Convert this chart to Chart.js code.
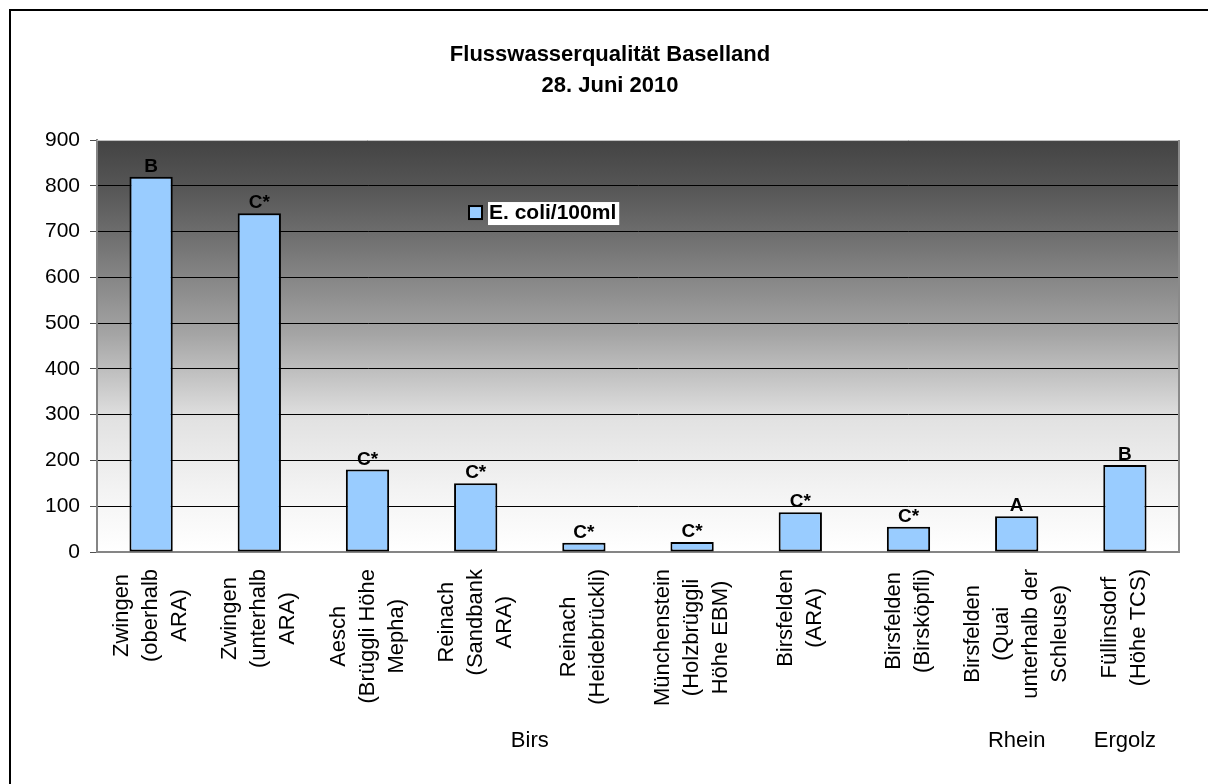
<!DOCTYPE html>
<html>
<head>
<meta charset="utf-8">
<title>Flusswasserqualität Baselland</title>
<script src="https://cdn.jsdelivr.net/npm/chart.js@4.4.1/dist/chart.umd.min.js"></script>
<style>
  html, body { margin: 0; padding: 0; background: #ffffff; }
  canvas { display: block; }
</style>
</head>
<body>
<canvas id="chart" width="1208" height="784"></canvas>
<script>
// Sampling stations (one label line per array entry)
const stations = [
  ['Zwingen', '(oberhalb', 'ARA)'],
  ['Zwingen', '(unterhalb', 'ARA)'],
  ['Aesch', '(Brüggli Höhe', 'Mepha)'],
  ['Reinach', '(Sandbank', 'ARA)'],
  ['Reinach', '(Heidebrückli)'],
  ['Münchenstein', '(Holzbrüggli', 'Höhe EBM)'],
  ['Birsfelden', '(ARA)'],
  ['Birsfelden', '(Birsköpfli)'],
  ['Birsfelden', '(Quai', 'unterhalb der', 'Schleuse)'],
  ['Füllinsdorf', '(Höhe TCS)']
];
// River of each station
const rivers = ['Birs', 'Birs', 'Birs', 'Birs', 'Birs', 'Birs', 'Birs', 'Birs', 'Rhein', 'Ergolz'];
// E. coli per 100 ml
const ecoli = [820, 740, 180, 150, 20, 22, 87, 55, 78, 190];
// Quality class of each station
const grades = ['B', 'C*', 'C*', 'C*', 'C*', 'C*', 'C*', 'C*', 'A', 'B'];
// Value axis
const yMin = 0;
const yMax = 900;
const yStep = 100;

const seriesName = 'E. coli/100ml';
const titleLines = ['Flusswasserqualität Baselland', '28. Juni 2010'];

const FONT = "'Liberation Sans', Arial, Helvetica, sans-serif";
const BAR_FILL = '#99ccff';

// Page frame, plot background gradient and plot border
const framePlugin = {
  id: 'frame',
  beforeDraw(chart) {
    const { ctx, chartArea: a } = chart;
    ctx.save();
    ctx.fillStyle = '#ffffff';
    ctx.fillRect(0, 0, chart.width, chart.height);
    ctx.fillStyle = '#000000';
    ctx.fillRect(9, 9, chart.width - 9, 2);
    ctx.fillRect(9, 9, 2, chart.height - 9);
    const g = ctx.createLinearGradient(0, a.top, 0, a.bottom);
    g.addColorStop(0.00, '#434343');
    g.addColorStop(0.11, '#555555');
    g.addColorStop(0.22, '#6c6c6c');
    g.addColorStop(0.47, '#a4a4a4');
    g.addColorStop(0.68, '#e2e2e2');
    g.addColorStop(0.85, '#f3f3f3');
    g.addColorStop(1.00, '#ffffff');
    ctx.fillStyle = g;
    ctx.fillRect(a.left, a.top, a.right - a.left, a.bottom - a.top);
    ctx.restore();
  },
  beforeDatasetsDraw(chart) {
    const { ctx, chartArea: a } = chart;
    ctx.save();
    ctx.strokeStyle = '#c4c4c4';
    ctx.lineWidth = 1;
    ctx.beginPath();
    ctx.moveTo(a.left, a.top + 0.5);
    ctx.lineTo(a.right, a.top + 0.5);
    ctx.stroke();
    ctx.strokeStyle = '#8a8a8a';
    ctx.lineWidth = 2;
    ctx.beginPath();
    ctx.moveTo(a.right, a.top);
    ctx.lineTo(a.right, a.bottom);
    ctx.stroke();
    ctx.restore();
  }
};

// Quality class written above each bar
const gradePlugin = {
  id: 'grades',
  afterDatasetsDraw(chart) {
    const { ctx } = chart;
    const meta = chart.getDatasetMeta(0);
    ctx.save();
    ctx.font = 'bold 19px ' + FONT;
    ctx.fillStyle = '#000000';
    ctx.textAlign = 'center';
    ctx.textBaseline = 'alphabetic';
    meta.data.forEach((bar, i) => {
      ctx.fillText(grades[i], bar.x, bar.y - 5);
    });
    ctx.restore();
  }
};

// Rotated, centred station names and river names under the x axis
const categoryPlugin = {
  id: 'categories',
  afterDraw(chart) {
    const { ctx } = chart;
    const x = chart.scales.x;
    const lineGap = 29;
    const top = x.top + 17;
    ctx.save();
    ctx.font = '22px ' + FONT;
    ctx.fillStyle = '#000000';
    ctx.textAlign = 'center';
    ctx.textBaseline = 'middle';
    stations.forEach((lines, i) => {
      const px = x.getPixelForTick(i);
      const len = Math.max(...lines.map(l => ctx.measureText(l).width));
      ctx.save();
      ctx.translate(px, top + len / 2);
      ctx.rotate(-Math.PI / 2);
      lines.forEach((l, j) => {
        ctx.fillText(l, 0, (j - (lines.length - 1) / 2) * lineGap);
      });
      ctx.restore();
    });
    const names = [...new Set(rivers)];
    names.forEach(name => {
      const idx = rivers.map((r, i) => r === name ? i : -1).filter(i => i >= 0);
      const px = idx.reduce((s, i) => s + x.getPixelForTick(i), 0) / idx.length;
      ctx.fillText(name, px, 741);
    });
    ctx.restore();
  }
};

// Series key placed inside the plot
const keyPlugin = {
  id: 'key',
  afterDraw(chart) {
    const { ctx, chartArea: a } = chart;
    const ds = chart.data.datasets[0];
    const bx = a.left + 372;
    const by = a.top + 66;
    ctx.save();
    ctx.font = 'bold 21px ' + FONT;
    const tw = ctx.measureText(ds.label).width;
    ctx.fillStyle = '#ffffff';
    ctx.fillRect(bx + 19, by - 4, tw + 4, 23);
    ctx.fillStyle = ds.backgroundColor;
    ctx.fillRect(bx, by, 13, 13);
    ctx.strokeStyle = '#000000';
    ctx.lineWidth = 2;
    ctx.strokeRect(bx, by, 13, 13);
    ctx.fillStyle = '#000000';
    ctx.textAlign = 'left';
    ctx.textBaseline = 'middle';
    ctx.fillText(ds.label, bx + 20, by + 7.5);
    ctx.restore();
  }
};

new Chart(document.getElementById('chart'), {
  type: 'bar',
  data: {
    labels: stations,
    datasets: [{
      label: seriesName,
      data: ecoli,
      backgroundColor: BAR_FILL,
      borderColor: '#000000',
      borderWidth: 2,
      borderSkipped: false,
      barPercentage: 0.4,
      categoryPercentage: 1.0
    }]
  },
  options: {
    responsive: false,
    animation: false,
    devicePixelRatio: 1,
    layout: { padding: { left: 41, right: 29, top: 0, bottom: 0 } },
    plugins: {
      legend: { display: false },
      tooltip: { enabled: false },
      title: {
        display: true,
        text: titleLines,
        color: '#000000',
        font: { family: FONT, size: 22, weight: 'bold', lineHeight: 1.41 },
        padding: { top: 39.5, bottom: 38.5 }
      }
    },
    scales: {
      x: {
        ticks: { display: false },
        grid: { display: false, drawTicks: false },
        border: { display: true, color: '#858585', width: 2 },
        afterFit(scale) { scale.height = 232; }
      },
      y: {
        min: yMin,
        max: yMax,
        ticks: {
          stepSize: yStep,
          color: '#000000',
          padding: 10,
          font: { family: FONT, size: 21 }
        },
        grid: {
          color: ctx => (ctx.tick && (ctx.tick.value === yMin || ctx.tick.value === yMax)) ? 'rgba(0,0,0,0)' : '#000000',
          lineWidth: 1,
          tickLength: 7,
          tickColor: '#505050'
        },
        border: { display: true, color: '#858585', width: 2 },
        afterFit(scale) { scale.width = 56; }
      }
    }
  },
  plugins: [framePlugin, gradePlugin, categoryPlugin, keyPlugin]
});
</script>
</body>
</html>
